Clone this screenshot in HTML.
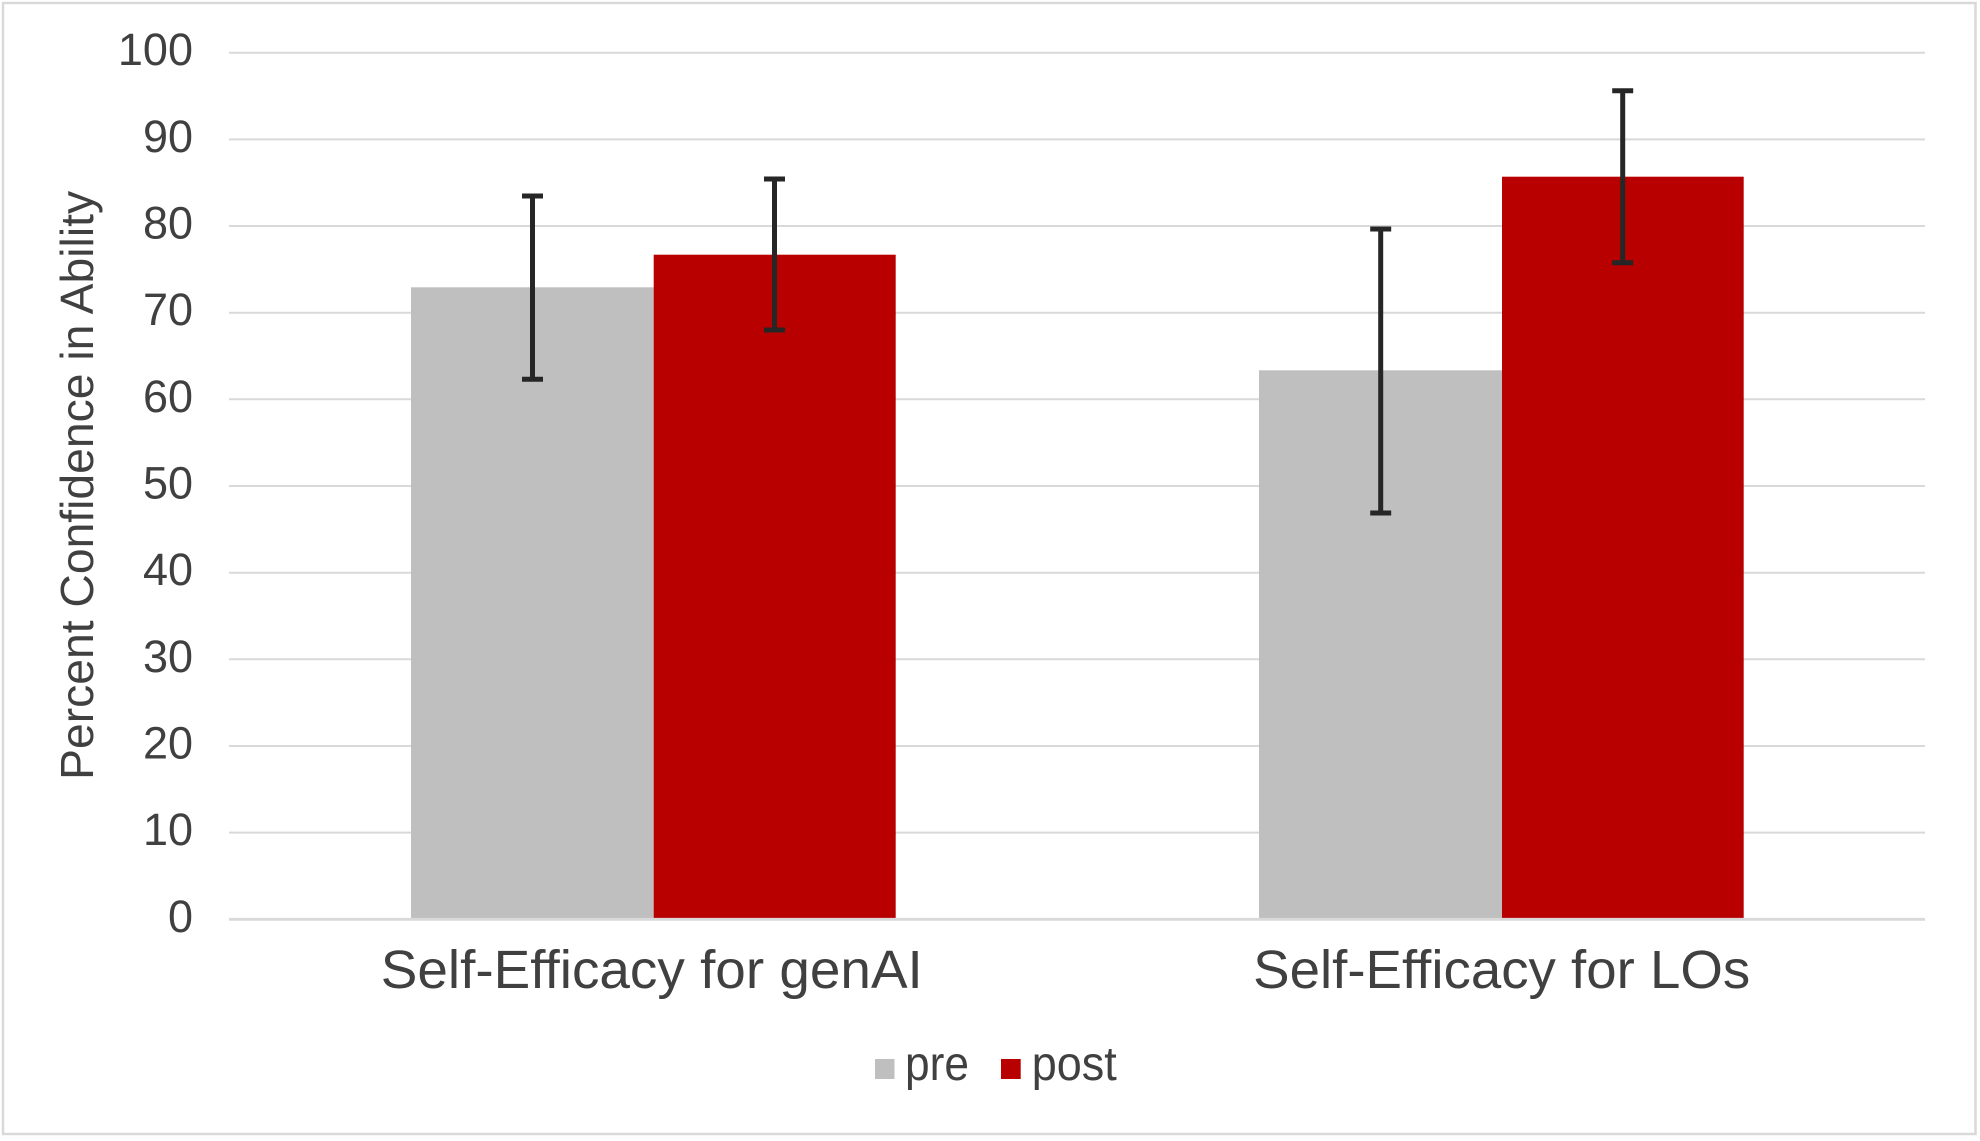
<!DOCTYPE html>
<html>
<head>
<meta charset="utf-8">
<style>
  html, body { margin: 0; padding: 0; background: #ffffff; }
  svg { display: block; }
  text { font-family: "Liberation Sans", "DejaVu Sans", sans-serif; fill: #404040; }
</style>
</head>
<body>
<svg width="1980" height="1141" viewBox="0 0 1980 1141" xmlns="http://www.w3.org/2000/svg">
  <rect x="0" y="0" width="1980" height="1141" fill="#ffffff"/>
  <!-- outer border -->
  <rect x="3" y="3" width="1972.5" height="1131" fill="none" stroke="#d9d9d9" stroke-width="2.5"/>

  <!-- gridlines -->
  <g stroke="#d9d9d9" stroke-width="2">
    <line x1="229" x2="1925" y1="52.7" y2="52.7"/>
    <line x1="229" x2="1925" y1="139.4" y2="139.4"/>
    <line x1="229" x2="1925" y1="226" y2="226"/>
    <line x1="229" x2="1925" y1="312.7" y2="312.7"/>
    <line x1="229" x2="1925" y1="399.3" y2="399.3"/>
    <line x1="229" x2="1925" y1="486" y2="486"/>
    <line x1="229" x2="1925" y1="572.7" y2="572.7"/>
    <line x1="229" x2="1925" y1="659.3" y2="659.3"/>
    <line x1="229" x2="1925" y1="746" y2="746"/>
    <line x1="229" x2="1925" y1="832.6" y2="832.6"/>
  </g>

  <!-- bars -->
  <rect x="411" y="287.3" width="242.7" height="632" fill="#bfbfbf"/>
  <rect x="653.7" y="254.7" width="242" height="664.6" fill="#b90000"/>
  <rect x="1259" y="370.3" width="243" height="549" fill="#bfbfbf"/>
  <rect x="1502" y="176.7" width="241.7" height="742.6" fill="#b90000"/>

  <!-- baseline -->
  <line x1="229" x2="1925" y1="919.3" y2="919.3" stroke="#d9d9d9" stroke-width="2.8"/>

  <!-- error bars -->
  <g stroke="#262626" fill="none">
    <line x1="532.5" x2="532.5" y1="196" y2="379.3" stroke-width="5"/>
    <line x1="522" x2="543" y1="196" y2="196" stroke-width="5"/>
    <line x1="522" x2="543" y1="379.3" y2="379.3" stroke-width="5"/>

    <line x1="774.5" x2="774.5" y1="179" y2="330" stroke-width="5"/>
    <line x1="764" x2="785" y1="179" y2="179" stroke-width="5"/>
    <line x1="764" x2="785" y1="330" y2="330" stroke-width="5"/>

    <line x1="1380.7" x2="1380.7" y1="229" y2="513" stroke-width="5"/>
    <line x1="1370.2" x2="1391.2" y1="229" y2="229" stroke-width="5"/>
    <line x1="1370.2" x2="1391.2" y1="513" y2="513" stroke-width="5"/>

    <line x1="1622.7" x2="1622.7" y1="90.7" y2="262.7" stroke-width="5"/>
    <line x1="1612.2" x2="1633.2" y1="90.7" y2="90.7" stroke-width="5"/>
    <line x1="1612.2" x2="1633.2" y1="262.7" y2="262.7" stroke-width="5"/>
  </g>

  <!-- y tick labels -->
  <g font-size="45" text-anchor="end">
    <text x="193" y="65">100</text>
    <text x="193" y="151.8">90</text>
    <text x="193" y="238.5">80</text>
    <text x="193" y="325.2">70</text>
    <text x="193" y="411.8">60</text>
    <text x="193" y="498.5">50</text>
    <text x="193" y="585.2">40</text>
    <text x="193" y="671.8">30</text>
    <text x="193" y="758.5">20</text>
    <text x="193" y="845.1">10</text>
    <text x="193" y="931.8">0</text>
  </g>

  <!-- y axis title -->
  <text transform="translate(93,485.4) rotate(-90)" x="0" y="0" font-size="46" text-anchor="middle" textLength="589" lengthAdjust="spacingAndGlyphs">Percent Confidence in Ability</text>

  <!-- category labels -->
  <text x="651.8" y="988" font-size="54" text-anchor="middle" textLength="542" lengthAdjust="spacingAndGlyphs">Self-Efficacy for genAI</text>
  <text x="1501.7" y="988" font-size="54" text-anchor="middle" textLength="497" lengthAdjust="spacingAndGlyphs">Self-Efficacy for LOs</text>

  <!-- legend -->
  <rect x="875" y="1059" width="19.5" height="20" fill="#bfbfbf"/>
  <text x="905" y="1080" font-size="48" textLength="64" lengthAdjust="spacingAndGlyphs">pre</text>
  <rect x="1001" y="1059" width="19.7" height="20" fill="#b90000"/>
  <text x="1031.7" y="1080" font-size="48" textLength="85" lengthAdjust="spacingAndGlyphs">post</text>
</svg>
</body>
</html>
